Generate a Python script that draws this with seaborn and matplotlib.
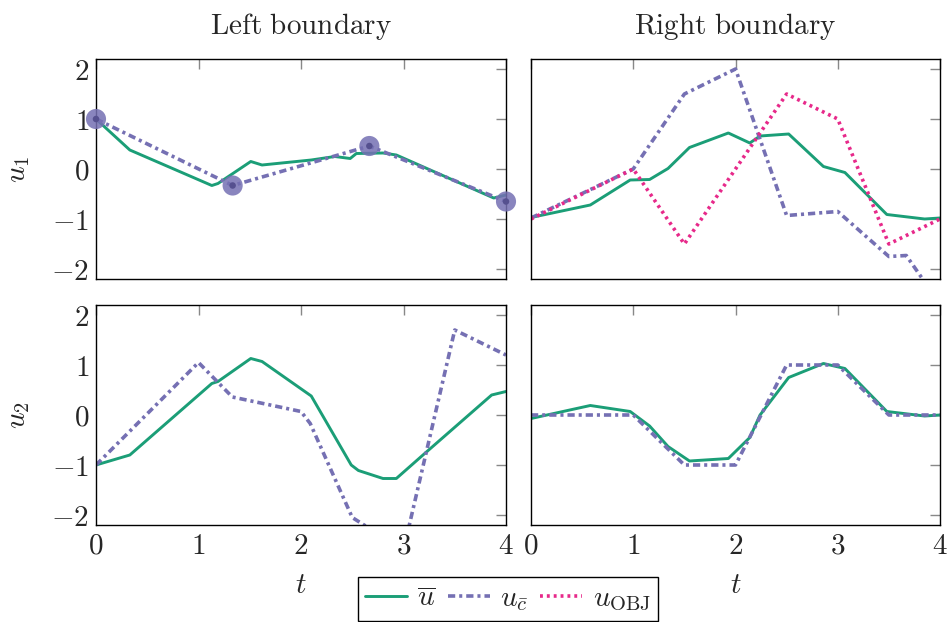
import matplotlib
matplotlib.use("Agg")
import matplotlib.pyplot as plt
from matplotlib.lines import Line2D
import seaborn as sns

# ---- data ----
# left boundary, u1
tl_ubar_t = [0.0, 0.33, 1.13, 1.19, 1.51, 1.62, 2.10, 2.33, 2.48, 2.54, 2.80, 2.93, 3.88, 4.0]
tl_ubar_y = [1.0, 0.38, -0.33, -0.29, 0.15, 0.08, 0.18, 0.25, 0.21, 0.31, 0.32, 0.28, -0.58, -0.52]
tl_uc_t = [0.0, 1.333, 2.667, 4.0]
tl_uc_y = [1.0, -0.33, 0.46, -0.65]

# right boundary, u1
r_ubar_t = [0.0, 0.58, 0.97, 1.16, 1.34, 1.55, 1.93, 2.14, 2.24, 2.52, 2.86, 3.07, 3.48, 3.85, 4.0]
tr_ubar_y = [-0.97, -0.72, -0.22, -0.21, 0.01, 0.43, 0.72, 0.52, 0.66, 0.70, 0.05, -0.07, -0.91, -1.0, -0.98]
tr_uc_t = [0.0, 1.0, 1.5, 2.0, 2.5, 3.0, 3.5, 3.67, 4.0]
tr_uc_y = [-0.98, 0.0, 1.5, 2.0, -0.93, -0.85, -1.75, -1.73, -2.7]
tr_obj_t = [0.0, 1.0, 1.5, 2.5, 3.0, 3.5, 4.0]
tr_obj_y = [-1.0, 0.0, -1.5, 1.5, 1.0, -1.5, -1.0]

# left boundary, u2
bl_ubar_t = [0.0, 0.33, 1.13, 1.19, 1.51, 1.62, 2.10, 2.49, 2.56, 2.80, 2.93, 3.19, 3.86, 4.0]
bl_ubar_y = [-1.0, -0.8, 0.63, 0.67, 1.13, 1.07, 0.38, -1.0, -1.11, -1.27, -1.27, -0.8, 0.4, 0.47]
bl_uc_t = [0.0, 1.0, 1.33, 2.0, 2.09, 2.5, 3.0, 3.5, 4.0]
bl_uc_y = [-1.0, 1.05, 0.36, 0.07, -0.17, -2.05, -2.7, 1.7, 1.2]

# right boundary, u2
br_ubar_y = [-0.07, 0.19, 0.07, -0.22, -0.63, -0.92, -0.87, -0.45, 0.0, 0.75, 1.03, 0.93, 0.07, -0.02, 0.0]
br_uc_t = [0.0, 1.0, 1.5, 2.0, 2.5, 3.0, 3.5, 4.0]
br_uc_y = [0.0, 0.0, -1.0, -1.0, 1.0, 1.0, 0.0, 0.0]

x_ticks = [0, 1, 2, 3, 4]
y_ticks = [-2, -1, 0, 1, 2]
row_labels = ["$u_1$", "$u_2$"]

green = "#1b9e77"
purple = "#7570b3"
pink = "#e7298a"
lw = 2.1
lw_dash = 2.6
dashdot = (0, (2.0, 1.1, 0.85, 1.1))
dotted = (0, (0.8, 1.1))

sns.set_style("white")
plt.rcParams["mathtext.fontset"] = "cm"
plt.rcParams["font.family"] = ["DejaVu Serif"]

fig = plt.figure(figsize=(9.49, 6.22), dpi=100)
W, H = 949, 622


def make_ax(l, r, t, b):
    return fig.add_axes([l / W, 1 - b / H, (r - l) / W, (b - t) / H])


ax_tl = make_ax(96, 506, 59, 279)
ax_tr = make_ax(531, 940, 59, 279)
ax_bl = make_ax(96, 506, 305, 525)
ax_br = make_ax(531, 940, 305, 525)


def line(ax, t, y, color, ls="-", width=lw):
    sns.lineplot(x=t, y=y, ax=ax, color=color, linewidth=width, linestyle=ls,
                 sort=False, estimator=None)


line(ax_tl, tl_ubar_t, tl_ubar_y, green)
line(ax_tl, tl_uc_t, tl_uc_y, purple, dashdot, lw_dash)
sns.scatterplot(x=tl_uc_t, y=tl_uc_y, ax=ax_tl, color=purple, s=210, alpha=0.85,
                edgecolor="none", zorder=5, clip_on=False)
sns.scatterplot(x=tl_uc_t, y=tl_uc_y, ax=ax_tl, color="#55508f", s=22,
                edgecolor="none", zorder=6, clip_on=False)

line(ax_tr, r_ubar_t, tr_ubar_y, green)
line(ax_tr, tr_uc_t, tr_uc_y, purple, dashdot, lw_dash)
line(ax_tr, tr_obj_t, tr_obj_y, pink, dotted, lw_dash)

line(ax_bl, bl_ubar_t, bl_ubar_y, green)
line(ax_bl, bl_uc_t, bl_uc_y, purple, dashdot, lw_dash)

line(ax_br, r_ubar_t, br_ubar_y, green)
line(ax_br, br_uc_t, br_uc_y, purple, dashdot, lw_dash)

fs = 21
for i, ax in enumerate([ax_tl, ax_tr, ax_bl, ax_br]):
    ax.set_xlim(0, 4)
    ax.set_ylim(-2.2, 2.2)
    ax.set_xticks(x_ticks)
    ax.set_yticks(y_ticks)
    ax.set_xlabel("")
    ax.set_ylabel("")
    ax.tick_params(direction="in", length=7, width=1, color="#888888",
                   top=True, right=True, labelsize=fs, pad=5)
    for sp in ax.spines.values():
        sp.set_color("black")
        sp.set_linewidth(1.0)
    if i < 2:
        ax.set_xticklabels([])
    else:
        ax.set_xticklabels([f"${v}$" for v in x_ticks])
        ax.set_xlabel("$t$", fontsize=fs, labelpad=8)
    if i % 2 == 1:
        ax.set_yticklabels([])
    else:
        ax.set_yticklabels([f"${v}$" for v in y_ticks])
        ax.set_ylabel(row_labels[i // 2], fontsize=fs, labelpad=14)

ax_tl.set_title(r"$\mathrm{Left\ boundary}$", fontsize=fs, pad=18)
ax_tr.set_title(r"$\mathrm{Right\ boundary}$", fontsize=fs, pad=18)

handles = [Line2D([], [], color=green, lw=lw),
           Line2D([], [], color=purple, lw=lw_dash, linestyle=dashdot),
           Line2D([], [], color=pink, lw=lw_dash, linestyle=dotted)]
labels = [r"$\overline{u}$", r"$u_{\bar{c}}$", r"$u_{\mathrm{OBJ}}$"]
leg = fig.legend(handles, labels, loc="center", bbox_to_anchor=(508 / W, 1 - 599 / H),
                 ncol=3, fontsize=fs, frameon=True, fancybox=False, framealpha=1,
                 edgecolor="black", handlelength=1.45, handletextpad=0.35,
                 columnspacing=0.4, borderpad=0.25)
leg.get_frame().set_linewidth(1.0)

fig.savefig("out.png", dpi=100)
